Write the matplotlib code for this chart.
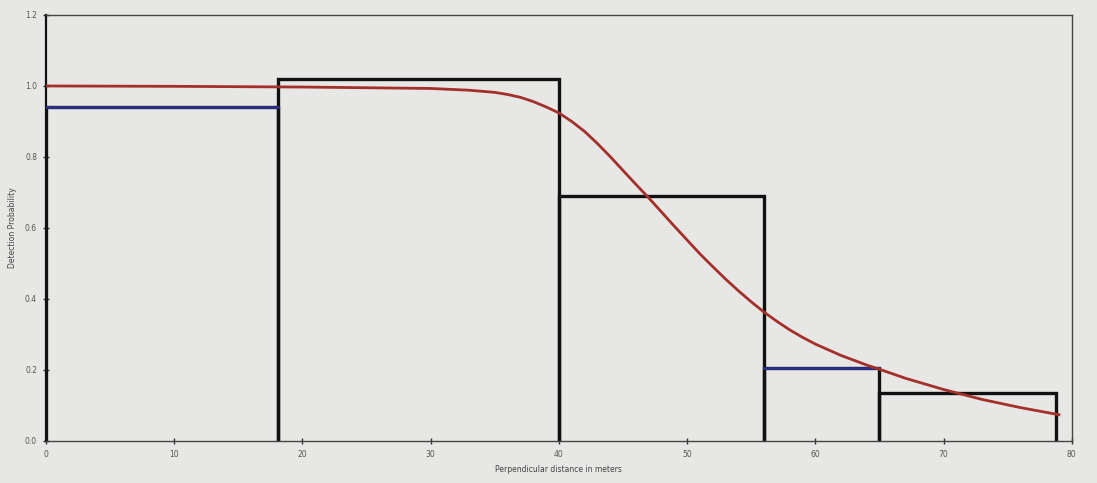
import matplotlib
matplotlib.use("Agg")
import matplotlib.pyplot as plt

# histogram bins (perpendicular distance, m) and bar heights
bin_edges = [0, 18.1, 40.0, 56.0, 65.0, 78.8]
bar_heights = [0.94, 1.02, 0.69, 0.205, 0.134]
blue_bars = [0, 3]  # bars whose top edge is drawn in blue

# fitted detection function
curve_x = [0, 10, 20, 25, 30, 33, 35, 36, 37, 38, 39, 40, 41, 42, 43, 44, 45, 46,
           47, 48, 49, 50, 51, 52, 53, 54, 55, 56, 57, 58, 59, 60, 62, 64, 65, 67,
           70, 73, 76, 79]
curve_y = [1.0, 0.999, 0.997, 0.995, 0.993, 0.988, 0.982, 0.976, 0.968, 0.956, 0.941,
           0.924, 0.90, 0.872, 0.838, 0.801, 0.762, 0.723, 0.685, 0.645, 0.605, 0.566,
           0.527, 0.491, 0.456, 0.423, 0.392, 0.363, 0.337, 0.313, 0.292, 0.273, 0.241,
           0.214, 0.202, 0.177, 0.145, 0.117, 0.094, 0.074]

x_ticks = [0, 10, 20, 30, 40, 50, 60, 70, 80]
y_ticks = [0.0, 0.2, 0.4, 0.6, 0.8, 1.0, 1.2]

BG = "#e7e7e5"
fig = plt.figure(figsize=(10.97, 4.83), dpi=100, facecolor=BG)
ax = fig.add_axes([0.042, 0.087, 0.935, 0.882], facecolor=BG)

# bars (outline only)
for i in range(len(bar_heights)):
    x0, x1, h = bin_edges[i], bin_edges[i + 1], bar_heights[i]
    ax.plot([x0, x0, x1, x1], [0, h, h, 0], color="#111111", lw=2.4,
            solid_joinstyle="miter", zorder=2)
for i in blue_bars:
    ax.plot([bin_edges[i], bin_edges[i + 1]], [bar_heights[i]] * 2,
            color="#2a2f8a", lw=2.0, zorder=3)

ax.plot(curve_x, curve_y, color="#a3302b", lw=2.0, zorder=4,
        solid_joinstyle="round")

ax.set_xlim(0, 80)
ax.set_ylim(0, 1.2)
ax.set_xticks(x_ticks)
ax.set_xticklabels([str(v) for v in x_ticks])
ax.set_yticks(y_ticks)
ax.set_yticklabels([f"{v:.1f}" for v in y_ticks])
ax.tick_params(direction="inout", length=5, width=1.0, labelsize=5.5,
               labelcolor="#555555", color="#333333", pad=4)

for s in ["top", "right", "bottom"]:
    ax.spines[s].set_color("#444444")
    ax.spines[s].set_linewidth(1.0)
ax.spines["left"].set_color("#111111")
ax.spines["left"].set_linewidth(1.6)

ax.set_xlabel("Perpendicular distance in meters", fontsize=5.5, color="#444444", labelpad=4)
ax.set_ylabel("Detection Probability", fontsize=5.5, color="#444444", labelpad=6)

fig.savefig("out.png", dpi=100, facecolor=BG)
